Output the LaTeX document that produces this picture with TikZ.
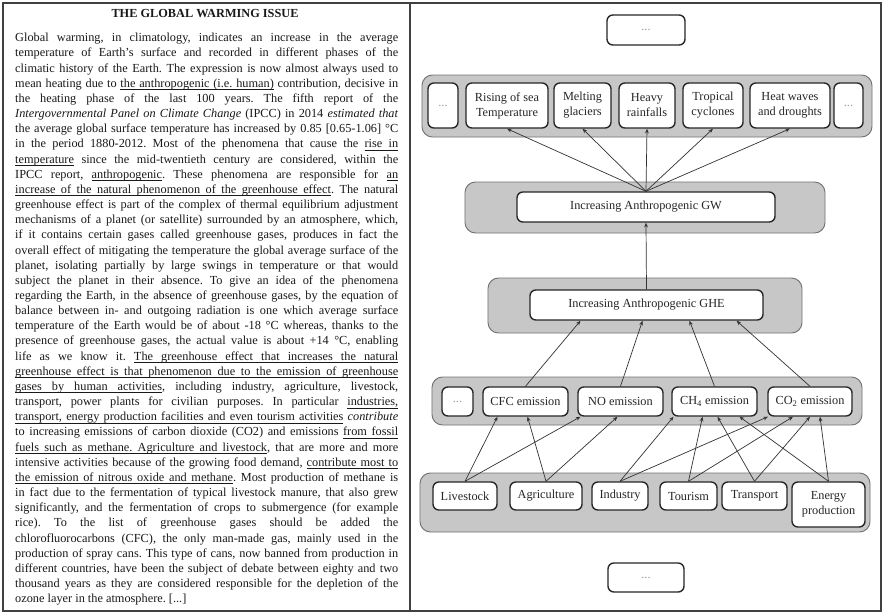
\documentclass[tikz,border=0pt]{standalone}
\usepackage{fontspec}
\setmainfont{Liberation Serif}
\usetikzlibrary{arrows.meta,calc}
\newcommand{\txtline}[1]{\noindent\makebox[\hsize][s]{#1}\par}
% underlined words whose spaces still stretch
\newcommand{\ulw}[1]{\setbox0\hbox{#1}\rlap{\rule[-2.1pt]{\wd0}{0.45pt}}\box0\relax}
\newcommand{\ulsp}{\leaders\hrule height -1.65pt depth 2.1pt\hskip\fontdimen2\font plus\fontdimen3\font minus\fontdimen4\font\relax}
\def\ulstop{}
\def\ulgo#1 #2\ulstop{\ulw{#1}\ifx\relax#2\relax\else\ulsp\ulgo#2\ulstop\fi}
\newcommand{\uline}[1]{\ulgo#1 \ulstop}

\begin{document}
\begin{tikzpicture}[x=0.03cm,y=-0.03cm]
\tikzstyle{group}=[draw=black!55,fill=black!22,rounded corners=9pt,line width=0.8pt]
\tikzstyle{box}=[draw=black!85,fill=white,rounded corners=5pt,line width=1.2pt,align=center,inner sep=0pt,text=black!85,font=\fontsize{10.5}{12.8}\selectfont]
\tikzstyle{dots}=[box,text=black!40]
\tikzstyle{arr}=[-{Stealth[length=4pt,width=3.2pt]},black!80,line width=0.6pt]
\tikzstyle{frame}=[draw=black!75,line width=1.6pt]

\fill[white] (0,0) rectangle (884,614);
\useasboundingbox (0,0) rectangle (884,614);
\draw[frame] (3,3) rectangle (410,611);
\draw[frame] (410,3) rectangle (881,611);

% text panel
\node[font=\bfseries\fontsize{10.5}{12}\selectfont,text=black!90] at (205,14) (title) {THE GLOBAL WARMING ISSUE};
\node[anchor=north west,inner sep=0pt,text width=11.49cm,align=justify,text=black!90,font=\fontsize{10.5}{12.94}\selectfont] at (15,33) (story) {%
\spaceskip=0pt \xspaceskip=0pt \frenchspacing
\txtline{Global warming, in climatology, indicates an increase in the average}
\txtline{temperature of Earth's surface and recorded in different phases of the}
\txtline{climatic history of the Earth. The expression is now almost always used to}
\txtline{mean heating due to \uline{the anthropogenic (i.e. human)} contribution, decisive in}
\txtline{the heating phase of the last 100 years. The fifth report of the}
\txtline{\textit{Intergovernmental Panel on Climate Change} (IPCC) in 2014 \textit{estimated that}}
\txtline{the average global surface temperature has increased by 0.85 [0.65-1.06] °C}
\txtline{in the period 1880-2012. Most of the phenomena that cause the \uline{rise in}}
\txtline{\uline{temperature} since the mid-twentieth century are considered, within the}
\txtline{IPCC report, \uline{anthropogenic}. These phenomena are responsible for \uline{an}}
\txtline{\uline{increase of the natural phenomenon of the greenhouse effect}. The natural}
\txtline{greenhouse effect is part of the complex of thermal equilibrium adjustment}
\txtline{mechanisms of a planet (or satellite) surrounded by an atmosphere, which,}
\txtline{if it contains certain gases called greenhouse gases, produces in fact the}
\txtline{overall effect of mitigating the temperature the global average surface of the}
\txtline{planet, isolating partially by large swings in temperature or that would}
\txtline{subject the planet in their absence. To give an idea of the phenomena}
\txtline{regarding the Earth, in the absence of greenhouse gases, by the equation of}
\txtline{balance between in- and outgoing radiation is one which average surface}
\txtline{temperature of the Earth would be of about -18 °C whereas, thanks to the}
\txtline{presence of greenhouse gases, the actual value is about +14 °C, enabling}
\txtline{life as we know it. \uline{The greenhouse effect that increases the natural}}
\txtline{\uline{greenhouse effect is that phenomenon due to the emission of greenhouse}}
\txtline{\uline{gases by human activities}, including industry, agriculture, livestock,}
\txtline{transport, power plants for civilian purposes. In particular \uline{industries,}}
\txtline{\uline{transport, energy production facilities and even tourism activities} \textit{contribute}}
\txtline{to increasing emissions of carbon dioxide (CO2) and emissions \uline{from fossil}}
\txtline{\uline{fuels such as methane. Agriculture and livestock}, that are more and more}
\txtline{intensive activities because of the growing food demand, \uline{contribute most to}}
\txtline{\uline{the emission of nitrous oxide and methane}. Most production of methane is}
\txtline{in fact due to the fermentation of typical livestock manure, that also grew}
\txtline{significantly, and the fermentation of crops to submergence (for example}
\txtline{rice). To the list of greenhouse gases should be added the}
\txtline{chlorofluorocarbons (CFC), the only man-made gas, mainly used in the}
\txtline{production of spray cans. This type of cans, now banned from production in}
\txtline{different countries, have been the subject of debate between eighty and two}
\txtline{thousand years as they are considered responsible for the depletion of the}
\noindent ozone layer in the atmosphere. [...]\par};

% diagram panel
\node[dots,minimum width=2.34cm,minimum height=0.9cm] at (646,30) (topmore) {...};

\node[group,minimum width=13.5cm,minimum height=1.86cm] at (647,106) (effects) {};
\node[dots,minimum width=0.9cm,minimum height=1.35cm] at (443,105.5) (e0) {...};
\node[box,minimum width=2.46cm,minimum height=1.35cm] at (507,105.5) (rise) {Rising of sea\\Temperature};
\node[box,minimum width=1.71cm,minimum height=1.35cm] at (582.5,105.5) (melt) {Melting\\glaciers};
\node[box,minimum width=1.68cm,minimum height=1.35cm] at (647,105.5) (rain) {Heavy\\rainfalls};
\node[box,minimum width=1.8cm,minimum height=1.35cm] at (713,105.5) (cyclone) {Tropical\\cyclones};
\node[box,minimum width=2.4cm,minimum height=1.35cm] at (790,105.5) (heat) {Heat waves\\and droughts};
\node[dots,minimum width=0.87cm,minimum height=1.35cm] at (848.5,105.5) (e6) {...};

\node[group,minimum width=10.8cm,minimum height=1.53cm] at (645,207.5) (gwgroup) {};
\node[box,minimum width=7.74cm,minimum height=0.9cm] at (646,207) (gw) {Increasing Anthropogenic GW};

\node[group,minimum width=9.42cm,minimum height=1.65cm] at (645,305.5) (ghegroup) {};
\node[box,minimum width=6.99cm,minimum height=0.9cm] at (646.5,305) (ghe) {Increasing Anthropogenic GHE};

\node[group,minimum width=12.9cm,minimum height=1.44cm] at (647,401) (emissions) {};
\node[dots,minimum width=0.93cm,minimum height=0.87cm] at (457.5,401.5) (m0) {...};
\node[box,minimum width=2.55cm,minimum height=0.87cm] at (525.5,401.5) (cfc) {CFC emission};
\node[box,minimum width=2.55cm,minimum height=0.87cm] at (620.5,401.5) (no) {NO emission};
\node[box,minimum width=2.55cm,minimum height=0.87cm] at (714.5,401.5) (ch4) {CH\textsubscript{4} emission};
\node[box,minimum width=2.52cm,minimum height=0.87cm] at (810,401.5) (co2) {CO\textsubscript{2} emission};

\node[group,minimum width=13.5cm,minimum height=1.77cm] at (645,502.5) (sources) {};
\node[box,minimum width=1.92cm,minimum height=0.84cm] at (465,496) (live) {Livestock};
\node[box,minimum width=2.16cm,minimum height=0.84cm] at (546,496) (agri) {Agriculture};
\node[box,minimum width=1.68cm,minimum height=0.84cm] at (620,496) (ind) {Industry};
\node[box,minimum width=1.71cm,minimum height=0.84cm] at (688.5,496) (tour) {Tourism};
\node[box,minimum width=1.95cm,minimum height=0.84cm] at (754.5,496) (trans) {Transport};
\node[box,minimum width=2.19cm,minimum height=1.35cm] at (828.5,504.5) (energy) {Energy\\production};

\node[dots,minimum width=2.28cm,minimum height=0.87cm] at (646,577.5) (botmore) {...};

% connectors
\draw[arr] (gw.north) -- (rise.south);
\draw[arr] (gw.north) -- (melt.south);
\draw[arr] (gw.north) -- (rain.south);
\draw[arr] (gw.north) -- (cyclone.south);
\draw[arr] (gw.north) -- (heat.south);

\draw[arr] (ghe.north) -- (gw.south);

\draw[arr] (cfc.north) -- ($(ghe.south)+(-66,0)$);
\draw[arr] (no.north) -- ($(ghe.south)+(-4,0)$);
\draw[arr] (ch4.north) -- ($(ghe.south)+(43,0)$);
\draw[arr] (co2.north) -- ($(ghe.south)+(90,0)$);

\draw[arr] (live.north) -- ($(cfc.south)+(-28,0)$);
\draw[arr] (agri.north) -- ($(cfc.south)+(2,0)$);
\draw[arr] (live.north) -- ($(no.south)+(-40,0)$);
\draw[arr] (agri.north) -- ($(no.south)+(-3,0)$);
\draw[arr] (ind.north) -- ($(ch4.south)+(-41,0)$);
\draw[arr] (tour.north) -- ($(ch4.south)+(-12,0)$);
\draw[arr] (trans.north) -- ($(ch4.south)+(3,0)$);
\draw[arr] (energy.north) -- ($(ch4.south)+(25,0)$);
\draw[arr] (ind.north) -- ($(co2.south)+(-42,0)$);
\draw[arr] (tour.north) -- ($(co2.south)+(-17,0)$);
\draw[arr] (trans.north) -- ($(co2.south)+(0,0)$);
\draw[arr] (energy.north) -- ($(co2.south)+(10,0)$);
\end{tikzpicture}
\end{document}
